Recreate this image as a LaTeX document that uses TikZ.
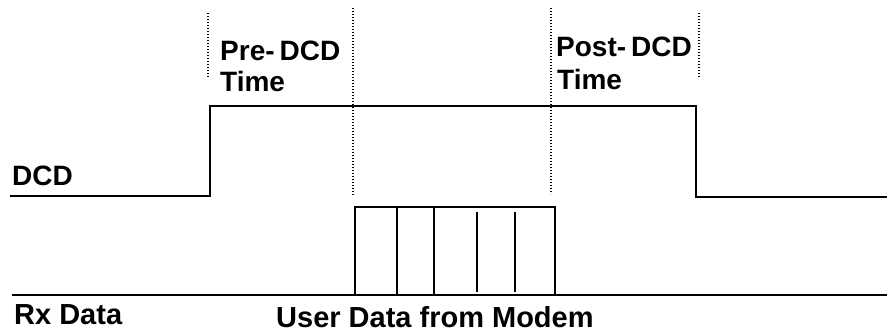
\documentclass[tikz,border=0pt]{standalone}
\usepackage{fontspec}
\setmainfont{Liberation Sans}
\newcommand\timemark[3]{% x, top, bottom
\draw[line width=1.3pt,dash pattern=on 1.3pt off 1.7pt] (#1,#2) -- (#1,#3);}
\tikzset{lbl/.style={anchor=base west,inner sep=0pt,font=\bfseries\fontsize{28}{31}\selectfont}}

\begin{document}
\begin{tikzpicture}[x=1pt,y=-1pt]
      \useasboundingbox (0,0) rectangle (887,333);

      \timemark{208}{13}{78}
      \timemark{353}{8}{195}
      \timemark{551}{8}{194}
      \timemark{699}{13}{78}

      % DCD signal
      \draw[line width=2.2pt] (10,196) -- (210,196) -- (210,106) -- (696,106) -- (696,197) -- (887,197);
      % Rx data line and frames
      \draw[line width=2.2pt] (12,295) -- (887,295);
      \draw[line width=1.6pt] (355,295) rectangle (555,207);
      \draw[line width=1.6pt] (397,207) -- (397,295);
      \draw[line width=1.6pt] (434,207) -- (434,295);
      \draw[line width=1.6pt] (477,212) -- (477,292);
      \draw[line width=1.6pt] (515,212) -- (515,292);

      \node (pre) at (220,60) [lbl] {Pre-\kern5pt DCD};
      \node (pretime) at (220,91) [lbl] {Time};
      \node (post) at (556,56) [lbl] {Post-\kern5pt DCD};
      \node (posttime) at (557,89) [lbl] {Time};
      \node (dcd) at (12,185) [lbl] {DCD};
      \node (rx) at (14,324) [lbl,font=\bfseries\fontsize{29}{31}\selectfont] {Rx Data};
      \node (user) at (276,327) [lbl,font=\bfseries\fontsize{29}{31}\selectfont] {User Data from Modem};
\end{tikzpicture}
\end{document}
